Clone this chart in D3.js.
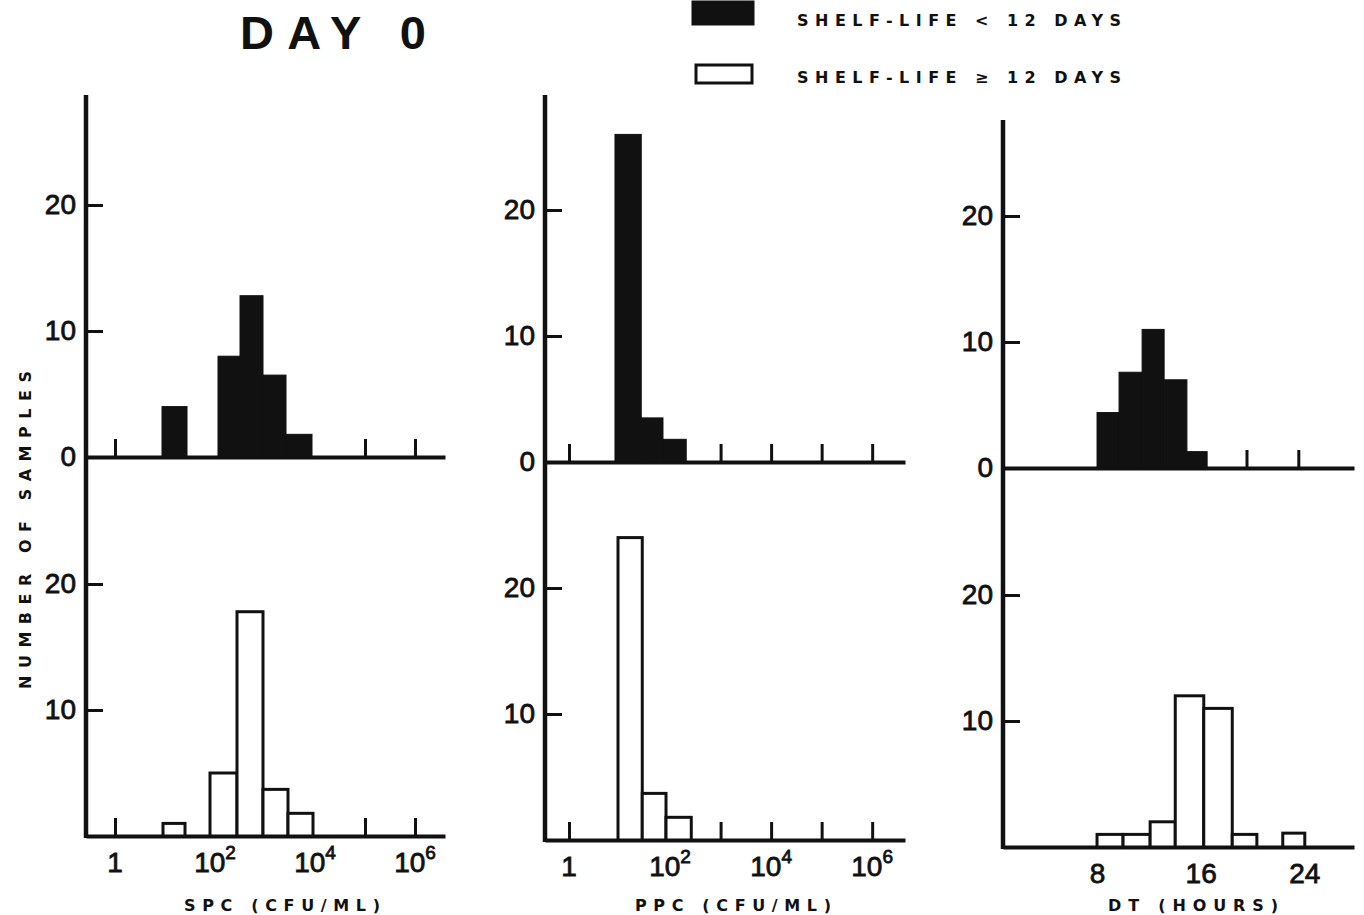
<!DOCTYPE html>
<html>
<head>
<meta charset="utf-8">
<script src="https://cdn.jsdelivr.net/npm/d3@7"></script>
<style>
  body { margin: 0; background: #fff; }
  svg text { font-family: "Liberation Sans", Arial, sans-serif; fill: #111; }
  .tick text { font-size: 28px; stroke: #111; stroke-width: 0.8px; }
  .tick line { stroke: #111; stroke-width: 3px; }
  .domain { stroke: #111; stroke-width: 4px; }
  .caps { font-family: "DejaVu Sans", sans-serif !important; font-weight: bold; font-size: 16px; }
</style>
</head>
<body>
<div class="chart"></div>
<script>
// bins are [low, high] edges; SPC/PPC edges are log10(CFU/ml), DT edges in hours
const spcShortEdges = [[0.94, 1.44], [2.06, 2.5], [2.5, 2.96], [2.96, 3.42], [3.42, 3.94]];
const spcShortCounts = [4, 8, 12.8, 6.5, 1.8];
const spcLongEdges = [[0.96, 1.4], [1.9, 2.44], [2.44, 2.96], [2.96, 3.46], [3.46, 3.96]];
const spcLongCounts = [1, 5, 17.8, 3.7, 1.8];

const ppcShortEdges = [[0.91, 1.43], [1.43, 1.86], [1.86, 2.32]];
const ppcShortCounts = [26, 3.5, 1.8];
const ppcLongEdges = [[0.97, 1.45], [1.45, 1.92], [1.92, 2.42]];
const ppcLongCounts = [24, 3.7, 1.8];

const dtShortEdges = [[7.96, 9.66], [9.66, 11.44], [11.44, 13.14], [13.14, 14.9], [14.9, 16.46]];
const dtShortCounts = [4.4, 7.6, 11, 7, 1.3];
const dtLongEdges = [[7.96, 9.97], [9.97, 12.06], [12.06, 14], [14, 16.2], [16.2, 18.4], [18.4, 20.3], [22.3, 24]];
const dtLongCounts = [1, 1, 2, 12, 11, 1, 1.1];

// tick values and labels
const yTopTicks = [0, 10, 20];
const yBottomTicks = [10, 20];
const spcTopTicks = [0, 5, 6];
const spcBottomTicks = [0, 5, 6];
const ppcTopTicks = [0, 3, 4, 5, 6];
const ppcBottomTicks = [0, 3, 4, 5, 6];
const logLabels = [0, 2, 4, 6];
const dtTopTicks = [19.5, 23.5];
const dtLabels = [8, 16, 24];

const legendLabels = ["SHELF-LIFE < 12 DAYS", "SHELF-LIFE \u2265 12 DAYS"];
const axisTitles = ["SPC (CFU/ML)", "PPC (CFU/ML)", "DT (HOURS)"];

const W = 1364, H = 915;
const svg = d3.select(".chart").append("svg")
    .attr("width", W)
    .attr("height", H);

// panel layout per column
const columns = [
  { title: axisTitles[0], log: true, x0: 86, x1: 445, dom: [-0.58, 6.6], yTop: 95, zTop: 457, zBot: 836,
    short: [spcShortEdges, spcShortCounts], long: [spcLongEdges, spcLongCounts],
    topTicks: spcTopTicks, botTicks: spcBottomTicks, labels: logLabels, titleX: 282 },
  { title: axisTitles[1], log: true, x0: 545, x1: 905, dom: [-0.475, 6.65], yTop: 95, zTop: 462, zBot: 840,
    short: [ppcShortEdges, ppcShortCounts], long: [ppcLongEdges, ppcLongCounts],
    topTicks: ppcTopTicks, botTicks: ppcBottomTicks, labels: logLabels, titleX: 733 },
  { title: axisTitles[2], log: false, x0: 1003, x1: 1354, dom: [0.7, 27.8], yTop: 120, zTop: 468, zBot: 847,
    short: [dtShortEdges, dtShortCounts], long: [dtLongEdges, dtLongCounts],
    topTicks: dtTopTicks, botTicks: [], labels: dtLabels, titleX: 1193 }
];

const unitPx = 12.6;

columns.forEach(c => {
  const xScale = c.log
    ? d3.scaleLog().domain([10 ** c.dom[0], 10 ** c.dom[1]]).range([0, c.x1 - c.x0])
    : d3.scaleLinear().domain(c.dom).range([0, c.x1 - c.x0]);
  const xv = v => c.log ? xScale(10 ** v) : xScale(v);

  const g = svg.append("g").attr("transform", `translate(${c.x0},0)`);

  // vertical axis line through both panels
  g.append("line")
    .attr("x1", 0).attr("x2", 0)
    .attr("y1", c.yTop).attr("y2", c.zBot + 2)
    .attr("stroke", "#111").attr("stroke-width", 4.5);

  [["top", c.zTop, c.short, c.topTicks, yTopTicks],
   ["bottom", c.zBot, c.long, c.botTicks, yBottomTicks]].forEach(([pos, zero, series, xt, yt]) => {
    const yScale = d3.scaleLinear().domain([0, 10]).range([zero, zero - 10 * unitPx]);

    // y ticks
    const yAxis = d3.axisLeft(yScale)
      .tickValues(yt)
      .tickSizeInner(-17)
      .tickSizeOuter(0)
      .tickPadding(10)
      .tickFormat(d3.format("d"));
    const ya = g.append("g").attr("class", "axis y-axis").call(yAxis);
    ya.select(".domain").remove();
    ya.selectAll(".tick line").filter(d => d === 0).remove();

    // x axis with upward ticks
    const xAxis = d3.axisBottom(xScale)
      .tickValues(c.log ? xt.map(e => 10 ** e) : xt)
      .tickSizeInner(-18)
      .tickSizeOuter(0)
      .tickFormat("");
    g.append("g")
      .attr("class", "axis x-axis")
      .attr("transform", `translate(0,${zero})`)
      .call(xAxis);

    // bars
    const data = series[0].map((e, i) => ({ lo: e[0], hi: e[1], n: series[1][i] }));
    g.selectAll(".bar-" + pos).data(data).enter()
      .append("rect")
      .attr("class", "bar-" + pos)
      .attr("x", d => xv(d.lo))
      .attr("width", d => xv(d.hi) - xv(d.lo))
      .attr("y", d => yScale(d.n))
      .attr("height", d => zero - yScale(d.n))
      .attr("fill", pos === "top" ? "#111" : "#fff")
      .attr("stroke", "#111")
      .attr("stroke-width", pos === "top" ? 1 : 3);
  });

  // x labels under bottom panel
  const lab = g.selectAll(".xlab").data(c.labels).enter()
    .append("text")
    .attr("class", "xlab")
    .attr("x", d => xv(d))
    .attr("y", c.zBot + 36)
    .attr("text-anchor", "middle")
    .style("font-size", "28px")
    .style("stroke", "#111").style("stroke-width", "0.8px");
  if (c.log) {
    lab.each(function(d) {
      const t = d3.select(this);
      if (d === 0) { t.text("1"); return; }
      t.append("tspan").text("10");
      t.append("tspan").attr("dy", -13).style("font-size", "19px").text(d);
    });
  } else {
    lab.text(d => d);
  }

  // axis title
  svg.append("text")
    .attr("class", "caps")
    .attr("x", c.titleX)
    .attr("y", 911)
    .attr("text-anchor", "middle")
    .attr("textLength", c.log ? 196 : 170)
    .attr("lengthAdjust", "spacing")
    .text(c.title);
});

// y axis title
svg.append("text")
  .attr("class", "caps")
  .attr("transform", "translate(31,530) rotate(-90)")
  .attr("text-anchor", "middle")
  .attr("textLength", 318)
  .attr("lengthAdjust", "spacing")
  .text("NUMBER OF SAMPLES");

// title
svg.append("text")
  .attr("x", 240)
  .attr("y", 49)
  .attr("textLength", 186)
  .attr("lengthAdjust", "spacing")
  .style("font-size", "47px")
  .style("font-weight", "bold")
  .text("DAY 0");

// legend
const legend = svg.append("g").attr("class", "legend");
legend.selectAll("rect").data(legendLabels).enter()
  .append("rect")
  .attr("x", (d, i) => i ? 696 : 693)
  .attr("y", (d, i) => i ? 65 : 2)
  .attr("width", (d, i) => i ? 56 : 60)
  .attr("height", (d, i) => i ? 18 : 22)
  .attr("fill", (d, i) => i ? "#fff" : "#111")
  .attr("stroke", "#111")
  .attr("stroke-width", 3);
legend.selectAll("text").data(legendLabels).enter()
  .append("text")
  .attr("class", "caps")
  .attr("x", 797)
  .attr("y", (d, i) => i ? 83 : 26)
  .attr("textLength", 324)
  .attr("lengthAdjust", "spacing")
  .text(d => d);
</script>
</body>
</html>
